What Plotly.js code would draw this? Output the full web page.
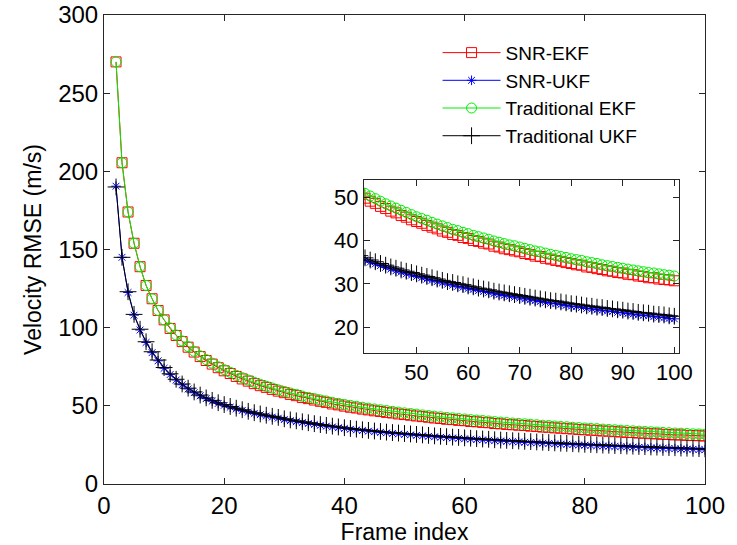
<!DOCTYPE html>
<html>
<head>
<meta charset="utf-8">
<script src="https://cdn.plot.ly/plotly-3.0.1.min.js"></script>
<style>html,body{margin:0;padding:0;background:#fff;}#plot{width:737px;height:545px;}</style>
</head>
<body>
<div id="plot"></div>
<script>
// Frame index 2..100
const frames = [2,3,4,5,6,7,8,9,10,11,12,13,14,15,16,17,18,19,20,21,22,23,24,25,26,27,28,29,30,31,32,33,34,35,36,37,38,39,40,41,42,43,44,45,46,47,48,49,50,51,52,53,54,55,56,57,58,59,60,61,62,63,64,65,66,67,68,69,70,71,72,73,74,75,76,77,78,79,80,81,82,83,84,85,86,87,88,89,90,91,92,93,94,95,96,97,98,99,100];

const snrEKF = [270,205.5,174,154,139,127,118.5,111,105,99.5,95.0,91.1,87.5,84.4,81.5,79.0,76.7,74.4,72.4,70.7,68.8,67.2,65.8,64.2,62.9,61.8,60.5,59.4,58.4,57.3,56.5,55.3,54.6,53.7,52.9,52.2,51.2,50.6,49.8,49.1,48.6,47.9,47.4,46.8,46.4,45.8,45.4,44.8,44.4,44.0,43.5,43.1,42.7,42.2,41.9,41.4,41.2,40.7,40.5,40.0,39.8,39.4,39.2,38.7,38.5,38.1,37.9,37.6,37.4,37.0,36.8,36.4,36.3,35.9,35.7,35.4,35.2,34.9,34.7,34.4,34.3,33.9,33.8,33.5,33.3,33.0,32.9,32.6,32.5,32.2,32.1,31.8,31.7,31.4,31.4,31.1,31.0,30.9,30.7];

const snrUKF = [190.5,145,122.5,108,98.5,90.5,84,78.8,74,70,66.5,63.5,60.8,58.4,56.4,54.6,53.0,51.5,50.3,49.1,48.0,47.0,46.0,45.1,44.3,43.5,42.8,42.1,41.2,40.5,39.9,39.3,38.7,38.1,37.5,37.0,36.5,36.0,35.5,35.0,34.6,34.2,33.8,33.4,33.0,32.7,32.3,32.0,31.7,31.4,31.1,30.8,30.5,30.2,29.9,29.7,29.4,29.2,28.9,28.7,28.4,28.2,28.0,27.7,27.5,27.3,27.1,26.9,26.7,26.5,26.3,26.1,25.9,25.7,25.5,25.4,25.2,25.0,24.8,24.7,24.5,24.3,24.2,24.0,23.9,23.7,23.6,23.4,23.3,23.1,23.0,22.8,22.7,22.6,22.4,22.3,22.2,22.0,21.9];

const tradEKF = [270,205.5,174,154,139,127,118.5,111,105,99.8,95.3,91.5,87.9,84.9,82.0,79.6,77.3,75.0,73.1,71.4,69.5,68.0,66.5,65.0,63.7,62.5,61.4,60.2,59.2,58.2,57.3,56.2,55.4,54.6,53.8,53.1,52.2,51.6,50.9,50.3,49.7,49.1,48.5,48.0,47.5,47.0,46.5,46.0,45.5,45.1,44.7,44.2,43.8,43.4,43.0,42.6,42.3,41.9,41.6,41.2,40.9,40.6,40.3,39.9,39.6,39.3,39.0,38.8,38.5,38.2,37.9,37.6,37.4,37.1,36.8,36.6,36.3,36.1,35.8,35.6,35.4,35.1,34.9,34.7,34.4,34.2,34.0,33.8,33.6,33.4,33.2,33.0,32.8,32.6,32.5,32.3,32.1,32.0,31.8];

const tradUKF = [190,145,123,108.5,99,91,84.6,79.3,74.5,70.5,67.0,64.0,61.3,58.9,56.9,55.1,53.5,52.0,50.8,49.6,48.5,47.5,46.5,45.6,44.8,44.0,43.3,42.6,41.7,41.0,40.4,39.8,39.2,38.6,38.0,37.5,37.0,36.5,36.0,35.5,35.1,34.7,34.3,33.9,33.6,33.2,32.9,32.6,32.3,32.0,31.7,31.4,31.1,30.8,30.5,30.3,30.0,29.8,29.5,29.3,29.0,28.8,28.6,28.3,28.1,27.9,27.7,27.5,27.3,27.1,26.9,26.7,26.5,26.3,26.1,26.0,25.8,25.6,25.4,25.3,25.1,24.9,24.8,24.6,24.5,24.3,24.2,24.0,23.9,23.7,23.6,23.4,23.3,23.2,23.0,22.9,22.8,22.6,22.5];

const seriesNames = ['SNR-EKF','SNR-UKF','Traditional EKF','Traditional UKF'];
const xTicksMain = [0,20,40,60,80,100];
const yTicksMain = [0,50,100,150,200,250,300];
const xTicksInset = [50,60,70,80,90,100];
const yTicksInset = [20,30,40,50];

const FONT = 'Liberation Sans, Arial, sans-serif';
const styles = [
  {color:'#ff0000', symbol:'square-open', size:10},
  {color:'#0000ff', symbol:'asterisk-open', size:8},
  {color:'#00ee00', symbol:'circle-open', size:10},
  {color:'#000000', symbol:'cross-thin-open', size:12}
];
const datasets = [snrEKF, snrUKF, tradEKF, tradUKF];

const traces = [];
datasets.forEach((d, i) => {
  const s = styles[i];
  const mk = {symbol:s.symbol, size:s.size, color:s.color, line:{color:s.color, width:1}};
  traces.push({x:frames, y:d, name:seriesNames[i], type:'scatter', mode:'lines+markers',
    line:{color:s.color, width:1}, marker:mk, xaxis:'x', yaxis:'y', showlegend:true});
});
datasets.forEach((d, i) => {
  const s = styles[i];
  const mk = {symbol:s.symbol, size:s.size, color:s.color, line:{color:s.color, width:1}};
  traces.push({x:frames, y:d, name:seriesNames[i], type:'scatter', mode:'lines+markers',
    line:{color:s.color, width:1}, marker:mk, xaxis:'x2', yaxis:'y2', showlegend:false});
});

const axisCommon = {
  showline:true, linecolor:'#262626', linewidth:1, mirror:'ticks',
  ticks:'inside', ticklen:6, tickcolor:'#262626', showgrid:false, zeroline:false,
  tickfont:{family:FONT, size:24, color:'#000'}
};

const layout = {
  width:737, height:545,
  margin:{l:104, r:32, t:15, b:61},
  paper_bgcolor:'#fff', plot_bgcolor:'#fff',
  showlegend:true,
  legend:{x:0.555, y:0.96, xanchor:'left', yanchor:'top', bgcolor:'rgba(0,0,0,0)', itemwidth:58,
    font:{family:FONT, size:19, color:'#000'}, tracegroupgap:0},
  xaxis:Object.assign({}, axisCommon, {domain:[0,1], range:[0,100], tickvals:xTicksMain,
    title:{text:'Frame index', font:{family:FONT, size:23, color:'#000'}, standoff:2}}),
  yaxis:Object.assign({}, axisCommon, {domain:[0,1], range:[0,300], tickvals:yTicksMain,
    title:{text:'Velocity RMSE (m/s)', font:{family:FONT, size:23, color:'#000'}, standoff:10}}),
  xaxis2:Object.assign({}, axisCommon, {anchor:'y2', domain:[0.4326,0.9567], range:[39.8,100.9], tickvals:xTicksInset,
    tickfont:{family:FONT, size:22, color:'#000'}}),
  yaxis2:Object.assign({}, axisCommon, {anchor:'x2', domain:[0.2793,0.6482], range:[14,54], tickvals:yTicksInset,
    tickfont:{family:FONT, size:22, color:'#000'}})
};

Plotly.newPlot('plot', traces, layout, {staticPlot:true, displayModeBar:false});
</script>
</body>
</html>
